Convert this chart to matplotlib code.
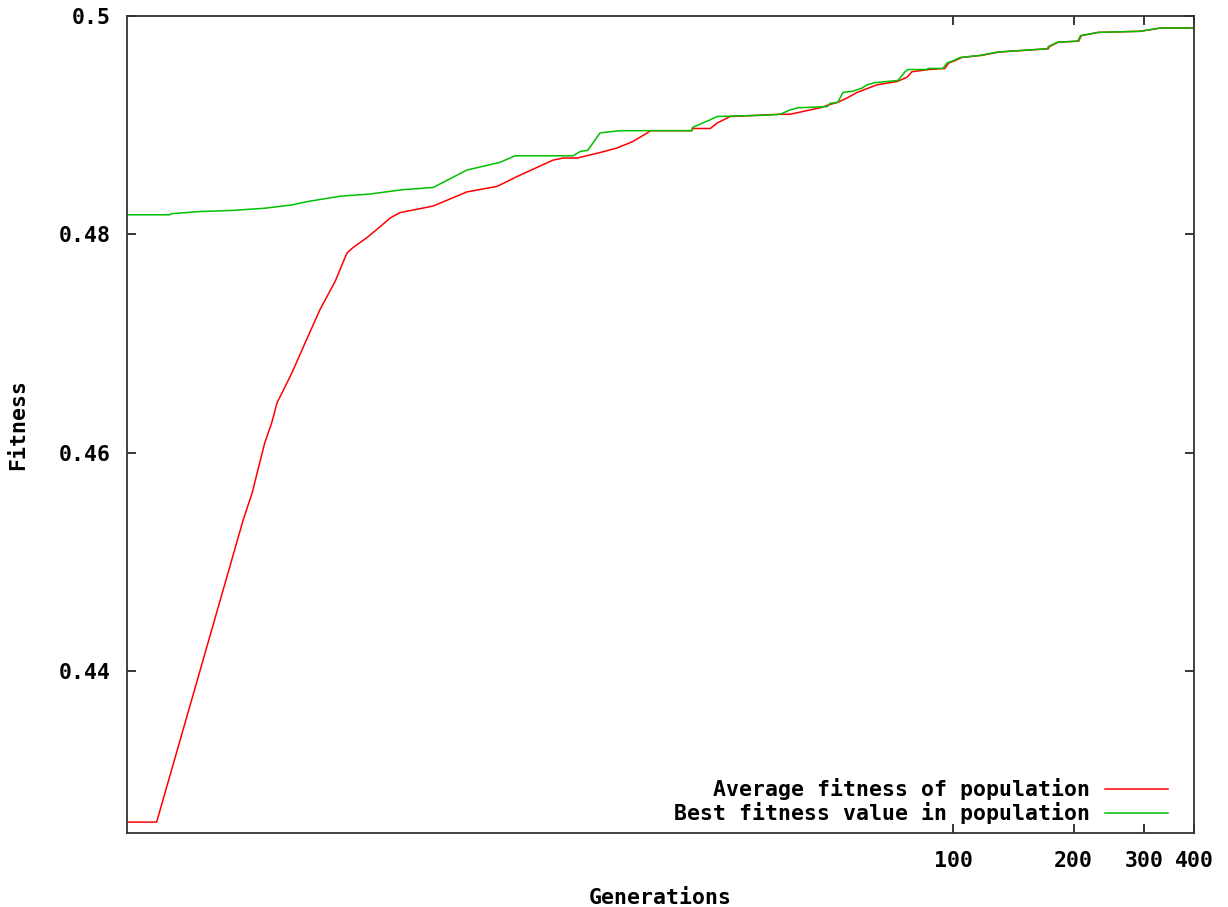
"""
plot.py - fitness vs generaciones (estilo gnuplot), eje x logaritmico.
"""
import matplotlib
matplotlib.use('Agg')
import matplotlib.pyplot as plt

# --- datos ---
avg_gen = [0.86, 1.02, 1.68, 1.77, 1.82, 1.90, 1.98, 2.04, 2.10, 2.22, 2.42,
           2.61, 2.85, 3.05, 3.16, 3.42, 3.69, 3.91, 4.14, 5.01, 6.09, 7.24,
           8.12, 9.98, 10.6, 11.5, 13.1, 14.4, 15.8, 17.2, 17.5, 22.2, 22.3,
           24.7, 25.7, 27.7, 36.9, 39.1, 46.5, 49.2, 51.5, 54.3, 57.5, 64.5,
           72.4, 76.7, 78.9, 87.0, 95.3, 97.5, 100.9, 105, 118, 130, 157,
           173, 174, 183, 206, 209, 231, 294, 330, 400]
avg_fit = [0.4262, 0.4262, 0.4539, 0.4564, 0.4582, 0.4609, 0.4628, 0.4646,
           0.4655, 0.4673, 0.4704, 0.4731, 0.4757, 0.4783, 0.4788, 0.4797,
           0.4807, 0.4815, 0.4820, 0.4826, 0.4839, 0.4844, 0.4853, 0.4868,
           0.4870, 0.4870, 0.4875, 0.4879, 0.4885, 0.4893, 0.4895, 0.4895,
           0.4897, 0.4897, 0.4902, 0.4908, 0.4910, 0.4910, 0.4916, 0.4919,
           0.4921, 0.4925, 0.4930, 0.4937, 0.4940, 0.4944, 0.4949, 0.4951,
           0.4952, 0.4957, 0.4959, 0.4962, 0.4964, 0.4967, 0.4969, 0.4970,
           0.4972, 0.4976, 0.4977, 0.4982, 0.4985, 0.4986, 0.4989, 0.4989]

best_gen = [0.86, 1.10, 1.11, 1.31, 1.58, 1.90, 2.22, 2.42, 2.93, 3.48, 4.21,
            5.01, 6.09, 7.36, 8.03, 11.2, 11.7, 12.2, 13.1, 14.7, 22.2, 22.3,
            24.7, 25.7, 32.9, 36.9, 39.1, 40.9, 48.4, 49.2, 51.5, 53.0, 55.9,
            59.2, 60.9, 63.8, 72.8, 75.8, 77.1, 86.0, 86.5, 94.3, 96.5, 99.9,
            104, 117, 129, 156, 172, 173, 182, 205, 208, 230, 293, 329, 400]
best_fit = [0.4818, 0.4818, 0.4819, 0.4821, 0.4822, 0.4824, 0.4827, 0.4830,
            0.4835, 0.4837, 0.4841, 0.4843, 0.4859, 0.4866, 0.4872, 0.4872,
            0.4876, 0.4877, 0.4893, 0.4895, 0.4895, 0.4898, 0.4905, 0.4908,
            0.4909, 0.4910, 0.4914, 0.4916, 0.4917, 0.4920, 0.4921, 0.4930,
            0.4931, 0.4934, 0.4937, 0.4939, 0.4941, 0.4949, 0.4951, 0.4951,
            0.4952, 0.4952, 0.4957, 0.4959, 0.4962, 0.4964, 0.4967, 0.4969,
            0.4970, 0.4972, 0.4976, 0.4977, 0.4982, 0.4985, 0.4986, 0.4989,
            0.4989]

x_ticks = [100, 200, 300, 400]
y_ticks = [0.44, 0.46, 0.48, 0.5]
y_tick_labels = ['0.44', '0.46', '0.48', '0.5']

FONT = 'DejaVu Sans Mono'
FS = 15.5
RED = '#ff0000'
GREEN = '#00c000'

fig = plt.figure(figsize=(12.28, 9.07), dpi=100)
ax = fig.add_axes([127 / 1228, 1 - 833 / 907, 1067 / 1228, 817 / 907])

ax.plot(avg_gen, avg_fit, color=RED, lw=1.1)
ax.plot(best_gen, best_fit, color=GREEN, lw=1.1)

ax.set_xscale('log')
ax.set_xlim(0.86, 400)
ax.set_ylim(0.4252, 0.5)
ax.set_xticks(x_ticks)
ax.set_xticklabels([str(t) for t in x_ticks])
ax.xaxis.set_minor_locator(matplotlib.ticker.NullLocator())
ax.set_yticks(y_ticks)
ax.set_yticklabels(y_tick_labels)

ax.tick_params(direction='in', length=6.5, width=1.1, top=True, right=True,
               labelsize=FS)
ax.tick_params(axis='x', pad=13)
ax.tick_params(axis='y', pad=12)
for lab in ax.get_xticklabels() + ax.get_yticklabels():
    lab.set_fontfamily(FONT)
    lab.set_fontweight('bold')

for sp in ax.spines.values():
    sp.set_linewidth(1.3)
    sp.set_color('#333333')

ax.set_xlabel('Generations', fontfamily=FONT, fontweight='bold', fontsize=FS,
              labelpad=12)
ax.set_ylabel('Fitness', fontfamily=FONT, fontweight='bold', fontsize=FS,
              labelpad=22)

# leyenda a mano: texto alineado a la derecha, linea a la derecha
legend_rows = [('Average fitness of population', RED, 0.0539),
               ('Best fitness value in population', GREEN, 0.0245)]
for label, col, yy in legend_rows:
    ax.text(0.9025, yy, label, transform=ax.transAxes, ha='right',
            va='center', fontfamily=FONT, fontweight='bold', fontsize=FS)
    ax.plot([0.9166, 0.9756], [yy, yy], transform=ax.transAxes, color=col,
            lw=1.1)

fig.savefig('out.png', dpi=100)
plt.close(fig)
